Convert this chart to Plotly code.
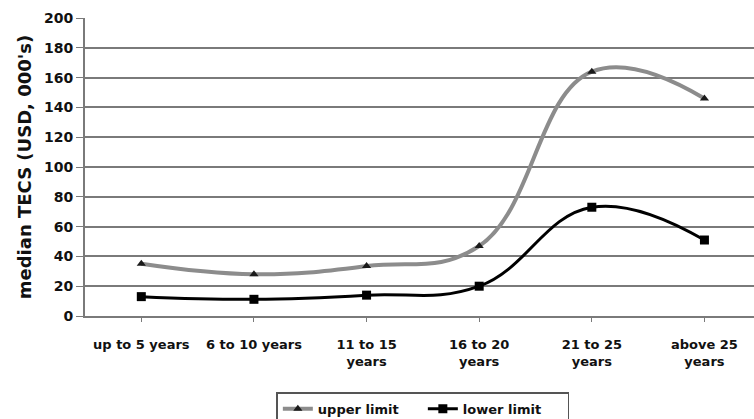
import plotly.graph_objects as go

categories = ["up to 5 years", "6 to 10 years", "11 to 15<br>years", "16 to 20<br>years",
              "21 to 25<br>years", "above 25<br>years"]
upper_limit = [35, 28, 33.5, 47, 164, 146]
lower_limit = [13, 11.2, 14, 20, 73, 51]
y_ticks = [0, 20, 40, 60, 80, 100, 120, 140, 160, 180, 200]

FONT = "DejaVu Sans, sans-serif"

fig = go.Figure()
fig.add_trace(go.Scatter(
    x=list(range(len(categories))), y=upper_limit, name="upper limit",
    mode="lines+markers", line=dict(color="#8c8c8c", width=4, shape="spline", smoothing=1.2),
    marker=dict(symbol="triangle-up", size=8, color="#1a1a1a"),
))
fig.add_trace(go.Scatter(
    x=list(range(len(categories))), y=lower_limit, name="lower limit",
    mode="lines+markers", line=dict(color="#000000", width=3, shape="spline", smoothing=1.2),
    marker=dict(symbol="square", size=9, color="#000000"),
))

fig.update_layout(
    width=754, height=419,
    margin=dict(l=85, r=0, t=18, b=103),
    paper_bgcolor="white", plot_bgcolor="white",
    font=dict(family=FONT, color="#111111", size=13),
    showlegend=True,
    legend=dict(orientation="h", x=0.505, xanchor="center",
                yref="container", y=0.064, yanchor="top",
                bordercolor="#555555", borderwidth=1.5,
                entrywidth=100,
                font=dict(family=FONT, size=13, color="#111111", weight="bold"),
                tracegroupgap=0),
    xaxis=dict(
        tickmode="array", tickvals=list(range(len(categories))), ticktext=categories,
        range=[-0.5, 5.44], showgrid=False, zeroline=False,
        showline=True, linecolor="#7a7a7a", linewidth=2,
        ticks="outside", ticklen=4, tickcolor="#7a7a7a",
        ticklabelstandoff=11,
        tickfont=dict(family=FONT, size=13, color="#111111", weight="bold"),
    ),
    yaxis=dict(
        range=[0, 200], tickvals=y_ticks, showgrid=True, gridcolor="#7a7a7a", gridwidth=2,
        zeroline=False, showline=True, linecolor="#7a7a7a", linewidth=2,
        ticks="outside", ticklen=7, tickcolor="#7a7a7a",
        tickfont=dict(family=FONT, size=14, color="#111111", weight="bold"),
        title=dict(text="median TECS (USD, 000's)", standoff=8,
                   font=dict(family=FONT, size=18, color="#111111", weight="bold")),
    ),
)

fig.write_html("out.html")
